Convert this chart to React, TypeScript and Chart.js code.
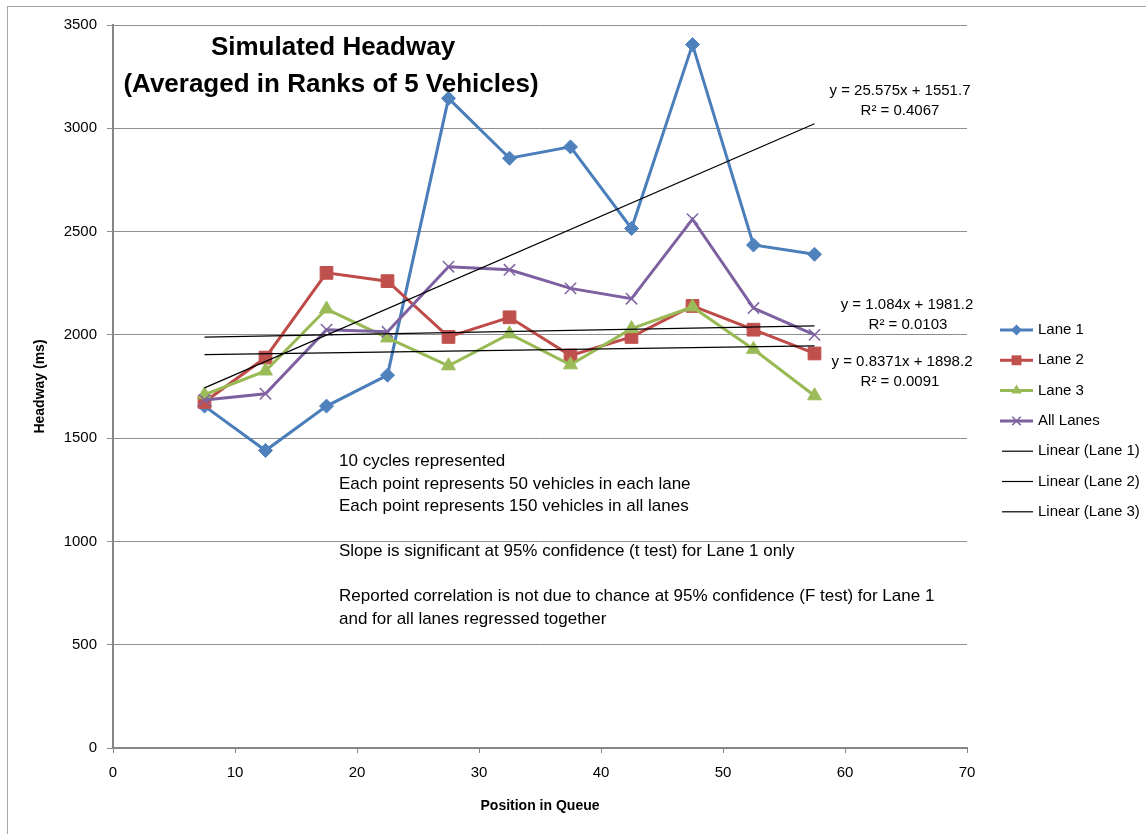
import React, { useEffect, useRef } from 'react';
import { Chart, registerables } from 'chart.js';

Chart.register(...registerables);

// ---- data ----
const positions = [7.5, 12.5, 17.5, 22.5, 27.5, 32.5, 37.5, 42.5, 47.5, 52.5, 57.5];
const lane1 = [1655, 1440, 1655, 1805, 3145, 2855, 2910, 2515, 3405, 2435, 2390];
const lane2 = [1675, 1890, 2300, 2260, 1990, 2085, 1900, 1990, 2140, 2025, 1910];
const lane3 = [1710, 1825, 2125, 1985, 1850, 2005, 1855, 2030, 2135, 1930, 1705];
const allLanes = [1685, 1715, 2025, 2015, 2330, 2315, 2225, 2175, 2560, 2130, 2000];

const seriesNames = ['Lane 1', 'Lane 2', 'Lane 3', 'All Lanes'];
const trendNames = ['Linear (Lane 1)', 'Linear (Lane 2)', 'Linear (Lane 3)'];
const trendSlopes = [25.575, 1.084, 0.8371];
const trendIntercepts = [1551.7, 1981.2, 1898.2];
const trendSlopeText = ['25.575', '1.084', '0.8371'];
const trendInterceptText = ['1551.7', '1981.2', '1898.2'];
const trendR2Text = ['0.4067', '0.0103', '0.0091'];
const trendRange = [7.5, 57.5];

const xMin = 0, xMax = 70, xStep = 10;
const yMin = 0, yMax = 3500, yStep = 500;

const titleLines = ['Simulated Headway', '(Averaged in Ranks of 5 Vehicles)'];
const noteLines = [
  '10 cycles represented',
  'Each point represents 50 vehicles in each lane',
  'Each point represents 150 vehicles in all lanes',
  '',
  'Slope is significant at 95% confidence (t test) for Lane 1 only',
  '',
  'Reported correlation is not due to chance at 95% confidence (F test) for Lane 1',
  'and for all lanes regressed together',
];
const xTitle = 'Position in Queue';
const yTitle = 'Headway (ms)';

// ---- styles ----
const FONT = '"Liberation Sans", Arial, sans-serif';
const lineColors = ['#4A7EBB', '#BE4B48', '#98B954', '#7D60A0'];
const markerColors = ['#4F81BD', '#C0504D', '#9BBB59', '#8064A2'];
const markerStyles = ['rectRot', 'rect', 'triangle', 'crossRot'];
const markerRadii = [7, 9, 8, 8];
const legendMarkerRadii = [5.5, 7, 6, 6];

function drawMarker(ctx: CanvasRenderingContext2D, style: string, x: number, y: number, r: number, color: string) {
  ctx.save();
  ctx.fillStyle = color;
  ctx.strokeStyle = color;
  ctx.lineWidth = 1.5;
  ctx.beginPath();
  if (style === 'rectRot') {
    ctx.moveTo(x, y - r);
    ctx.lineTo(x + r, y);
    ctx.lineTo(x, y + r);
    ctx.lineTo(x - r, y);
    ctx.closePath();
    ctx.fill();
  } else if (style === 'rect') {
    const s = r * Math.SQRT1_2;
    ctx.rect(x - s, y - s, 2 * s, 2 * s);
    ctx.fill();
  } else if (style === 'triangle') {
    const h = r * Math.sqrt(3) / 2;
    ctx.moveTo(x, y - r);
    ctx.lineTo(x + h, y + r / 2);
    ctx.lineTo(x - h, y + r / 2);
    ctx.closePath();
    ctx.fill();
  } else {
    const d = r * Math.SQRT1_2;
    ctx.moveTo(x - d, y - d);
    ctx.lineTo(x + d, y + d);
    ctx.moveTo(x + d, y - d);
    ctx.lineTo(x - d, y + d);
    ctx.stroke();
  }
  ctx.restore();
}

const overlayPlugin = {
  id: 'overlay',
  beforeDraw(chart: any) {
    const ctx = chart.ctx as CanvasRenderingContext2D;
    ctx.save();
    ctx.fillStyle = '#ffffff';
    ctx.fillRect(0, 0, chart.width, chart.height);
    ctx.strokeStyle = '#a6a6a6';
    ctx.lineWidth = 1;
    ctx.strokeRect(7.5, 6.5, chart.width + 20, chart.height + 20);
    ctx.restore();
  },
  afterDraw(chart: any) {
    const ctx = chart.ctx as CanvasRenderingContext2D;
    const area = chart.chartArea;
    ctx.save();
    ctx.fillStyle = '#000';

    // title
    ctx.font = `bold 26px ${FONT}`;
    ctx.textAlign = 'center';
    ctx.textBaseline = 'alphabetic';
    ctx.fillText(titleLines[0], 333, 55);
    ctx.fillText(titleLines[1], 331, 92);

    // notes
    ctx.font = `17px ${FONT}`;
    ctx.textAlign = 'left';
    noteLines.forEach((t, i) => {
      if (t) ctx.fillText(t, 339, 466 + i * 22.5);
    });

    // trendline equations
    ctx.font = `15px ${FONT}`;
    ctx.textAlign = 'center';
    ctx.textBaseline = 'middle';
    const eqPos = [
      [900, 91, 900, 111],
      [907, 305, 908, 325],
      [902, 362, 900, 382],
    ];
    eqPos.forEach((p, i) => {
      ctx.fillText(`y = ${trendSlopeText[i]}x + ${trendInterceptText[i]}`, p[0], p[1]);
      ctx.fillText(`R² = ${trendR2Text[i]}`, p[2], p[3]);
    });

    // legend
    const lx = area.right + 33;
    const ly = 330;
    const step = 30.3;
    ctx.font = `15px ${FONT}`;
    ctx.textAlign = 'left';
    ctx.textBaseline = 'middle';
    seriesNames.forEach((name, i) => {
      const y = ly + i * step;
      ctx.strokeStyle = lineColors[i];
      ctx.lineWidth = 3;
      ctx.beginPath();
      ctx.moveTo(lx, y);
      ctx.lineTo(lx + 33, y);
      ctx.stroke();
      drawMarker(ctx, markerStyles[i], lx + 16.5, y, legendMarkerRadii[i], markerColors[i]);
      ctx.fillStyle = '#000';
      ctx.fillText(name, lx + 38, y);
    });
    trendNames.forEach((name, j) => {
      const y = ly + (seriesNames.length + j) * step;
      ctx.strokeStyle = '#000';
      ctx.lineWidth = 1.2;
      ctx.beginPath();
      ctx.moveTo(lx + 2, y);
      ctx.lineTo(lx + 33, y);
      ctx.stroke();
      ctx.fillStyle = '#000';
      ctx.fillText(name, lx + 38, y);
    });
    ctx.restore();
  },
};

export default function App() {
  const ref = useRef<HTMLCanvasElement | null>(null);

  useEffect(() => {
    if (!ref.current) return;
    const seriesData = [lane1, lane2, lane3, allLanes];
    const datasets: any[] = seriesData.map((vals, i) => ({
      label: seriesNames[i],
      data: positions.map((x, k) => ({ x, y: vals[k] })),
      showLine: true,
      borderColor: lineColors[i],
      borderWidth: 3,
      backgroundColor: markerColors[i],
      pointStyle: markerStyles[i],
      pointRadius: markerRadii[i],
      pointBorderColor: markerColors[i],
      pointBackgroundColor: markerColors[i],
      pointBorderWidth: i === 3 ? 1.5 : 1,
      tension: 0,
      order: 4 - i,
    }));
    trendNames.forEach((name, j) => {
      datasets.push({
        label: name,
        data: trendRange.map((x) => ({ x, y: trendSlopes[j] * x + trendIntercepts[j] })),
        showLine: true,
        borderColor: '#000',
        borderWidth: 1.2,
        pointRadius: 0,
        tension: 0,
        order: 0,
      });
    });

    Chart.defaults.font.family = FONT;
    const chart = new Chart(ref.current, {
      type: 'scatter',
      data: { datasets },
      options: {
        responsive: false,
        animation: false,
        layout: { padding: { left: 0, top: 25, right: 179, bottom: 0 } },
        plugins: {
          legend: { display: false },
          title: { display: false },
          tooltip: { enabled: false },
        },
        scales: {
          x: {
            type: 'linear',
            min: xMin,
            max: xMax,
            afterFit: (s: any) => { s.height = 86; },
            ticks: { stepSize: xStep, color: '#000', font: { size: 15 }, padding: 11, callback: (v: any) => String(v) },
            grid: { display: true, drawOnChartArea: false, drawTicks: true, tickLength: 5, color: '#868686', lineWidth: 1 },
            border: { display: true, color: '#868686', width: 2 },
            title: { display: true, text: xTitle, color: '#000', font: { size: 14, weight: 'bold' }, padding: { top: 0, bottom: 19 } },
          },
          y: {
            type: 'linear',
            min: yMin,
            max: yMax,
            afterFit: (s: any) => { s.width = 113; },
            ticks: { stepSize: yStep, color: '#000', font: { size: 15 }, padding: 10, callback: (v: any) => String(v) },
            grid: { display: true, drawOnChartArea: true, drawTicks: true, tickLength: 6, color: '#8e8e8e', lineWidth: 1 },
            border: { display: true, color: '#868686', width: 2 },
            title: { display: true, text: yTitle, color: '#000', font: { size: 14, weight: 'bold' }, padding: { top: 32, bottom: 0 } },
          },
        },
      } as any,
      plugins: [overlayPlugin],
    });
    return () => chart.destroy();
  }, []);

  return (
    <div style={{ position: 'absolute', left: 0, top: 0, width: 1146, height: 834, overflow: 'hidden', background: '#fff' }}>
      <canvas ref={ref} width={1146} height={834} style={{ display: 'block', width: 1146, height: 834 }} />
    </div>
  );
}
